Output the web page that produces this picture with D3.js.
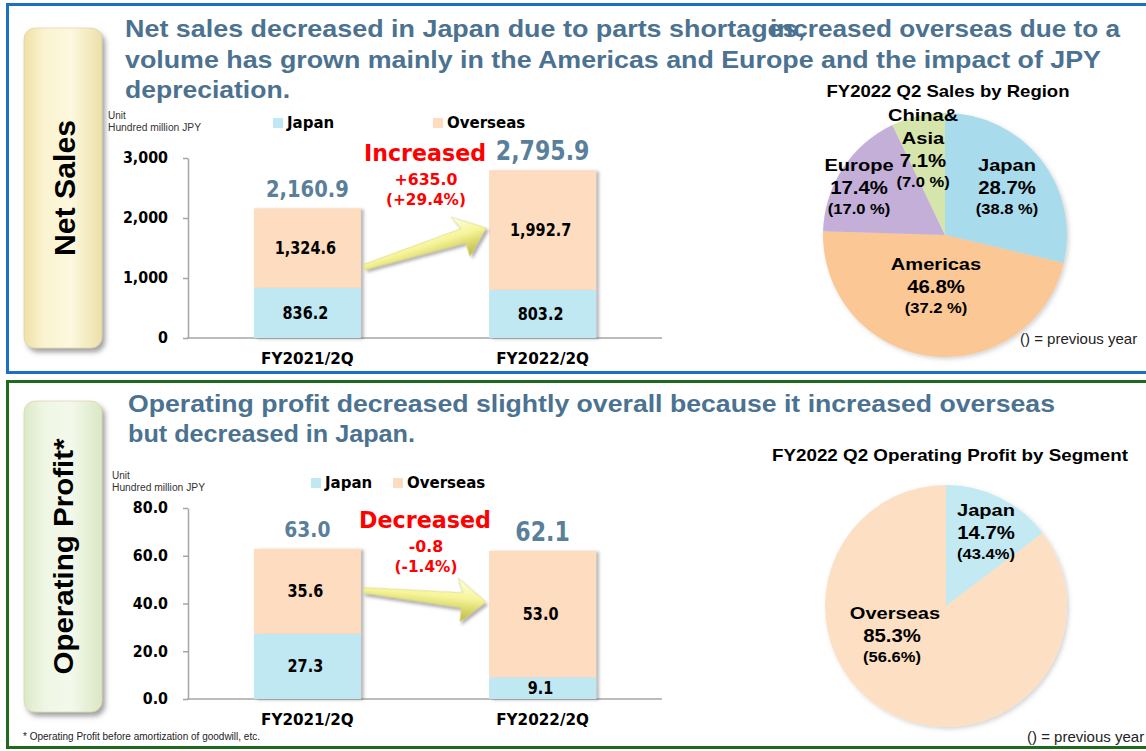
<!DOCTYPE html>
<html>
<head>
<meta charset="utf-8">
<script src="https://cdn.jsdelivr.net/npm/d3@7"></script>
<style>
body{margin:0;background:#fff;}
svg{display:block;}
</style>
</head>
<body>
<svg id="chart" width="1146" height="751"></svg>
<script>
// ---------- data ----------
const periods = ["FY2021/2Q", "FY2022/2Q"];
const seriesNames = ["Japan", "Overseas"];

const salesJapan = [836.2, 803.2];
const salesOverseas = [1324.6, 1992.7];
const salesTotal = [2160.9, 2795.9];
const salesTicks = [0, 1000, 2000, 3000];
const salesChange = ["Increased", "+635.0", "(+29.4%)"];

const profitJapan = [27.3, 9.1];
const profitOverseas = [35.6, 53.0];
const profitTotal = [63.0, 62.1];
const profitTicks = [0, 20, 40, 60, 80];
const profitChange = ["Decreased", "-0.8", "(-1.4%)"];

const regionNames = ["Japan", "Americas", "Europe", "China&Asia"];
const regionShare = [28.7, 46.8, 17.4, 7.1];
const regionPrev = [38.8, 37.2, 17.0, 7.0];

const segmentNames = ["Japan", "Overseas"];
const segmentShare = [14.7, 85.3];
const segmentPrev = [43.4, 56.6];


// ---------- styles ----------
const fNum = "'DejaVu Sans', Verdana, sans-serif";
const fSans = "'Liberation Sans', Arial, sans-serif";
const barColors = {Japan: "#c0e8f3", Overseas: "#fddcbf"};
const regionColors = ["#a8dbec", "#fbc795", "#c4afd9", "#d6e5ab"];
const segmentColors = ["#c3e9f3", "#fde0c3"];
const headColor = "#4b7290";
const totalColor = "#5a7f9a";
const axisColor = "#a6a6a6";

const svg = d3.select("#chart");
const defs = svg.append("defs");


function shadow(id, dx, dy, sd, op){
	const f = defs.append("filter").attr("id", id)
	  .attr("x", "-30%").attr("y", "-30%").attr("width", "160%").attr("height", "160%");
	f.append("feDropShadow")
	  .attr("dx", dx).attr("dy", dy).attr("stdDeviation", sd)
	  .attr("flood-color", "#555").attr("flood-opacity", op);
}
shadow("boxShadow", 3, 4, 2.5, 0.55);
shadow("barShadow", 3, 1, 1.5, 0.4);
shadow("arrowShadow", 2, 3, 1.8, 0.45);
shadow("pieShadow", 2, 2, 2, 0.25);


function gradient(id, stops, vertical){
	const g = defs.append("linearGradient").attr("id", id)
	  .attr("x1", 0).attr("y1", 0)
	  .attr("x2", vertical ? 0 : 1).attr("y2", vertical ? 1 : 0);
	stops.forEach(s => g.append("stop").attr("offset", s[0]).attr("stop-color", s[1]));
}
gradient("yellowBox", [[0, "#eee0a6"], [0.25, "#fbf3cf"], [0.6, "#fdf8df"], [1, "#ece0a8"]]);
gradient("greenBox", [[0, "#dbe9c6"], [0.25, "#eef6e3"], [0.6, "#f4f9ec"], [1, "#d9e8c4"]]);
gradient("arrowFill", [[0, "#ffffe8"], [0.45, "#f6f59a"], [1, "#bdb83c"]], true);


// text helper: w = fixed width, sx = stretch of the natural width
function txt(g, s, x, y, o = {}){
	const t = g.append("text")
	  .attr("x", x).attr("y", y)
	  .attr("text-anchor", o.anchor || "middle")
	  .attr("dominant-baseline", o.baseline || "central")
	  .attr("font-family", o.font || fSans)
	  .attr("font-size", o.size || 14)
	  .attr("font-weight", o.weight || "bold")
	  .attr("fill", o.fill || "#000")
	  .text(s);
	if(o.w){
		t.attr("textLength", o.w).attr("lengthAdjust", "spacingAndGlyphs");
	} else if(o.sx){
		const n = t.node().getComputedTextLength();
		t.attr("textLength", n*o.sx).attr("lengthAdjust", "spacingAndGlyphs");
	}
	return t;
}


// ---------- panels ----------
svg.append("rect").attr("x", 7.5).attr("y", 4.5).attr("width", 1150).attr("height", 368)
  .attr("fill", "none").attr("stroke", "#1c70c0").attr("stroke-width", 3);
svg.append("rect").attr("x", 7.5).attr("y", 381.5).attr("width", 1150).attr("height", 366)
  .attr("fill", "none").attr("stroke", "#1d6b1d").attr("stroke-width", 3);

// side label boxes
function sideBox(y, h, fill, label, size, w){
	svg.append("rect").attr("x", 24).attr("y", y).attr("width", 78).attr("height", h)
	  .attr("rx", 11).attr("fill", `url(#${fill})`)
	  .attr("stroke", "#d9cfa6").attr("stroke-width", 0.6)
	  .attr("filter", "url(#boxShadow)");
	const g = svg.append("g").attr("transform", `translate(64,${y + h/2}) rotate(-90)`);
	txt(g, label, 0, 0, {size: size, w: w});
}
sideBox(28, 320, "yellowBox", "Net Sales", 30, 136);
sideBox(401, 311, "greenBox", "Operating Profit*", 27, 236);


// ---------- headlines ----------
const hl = {size: 24, fill: headColor, anchor: "start", baseline: "alphabetic"};
txt(svg, "Net sales decreased in Japan due to parts shortages,", 125, 37, {...hl, w: 680});
txt(svg, "increased overseas due to a", 770, 37, {...hl, w: 350});
txt(svg, "volume has grown mainly in the Americas and Europe and the impact of JPY", 125, 68, {...hl, w: 976});
txt(svg, "depreciation.", 125, 98, {...hl, w: 165});
txt(svg, "Operating profit decreased slightly overall because it increased overseas", 128, 412, {...hl, w: 927});
txt(svg, "but decreased in Japan.", 128, 442, {...hl, w: 287});


// ---------- stacked bar chart ----------
function barChart(cfg){
	const g = svg.append("g");

	const x = d3.scaleBand().domain(periods).range([188, 662])
	  .paddingInner(0.545).paddingOuter(0.28);
	const y = d3.scaleLinear().domain([0, cfg.max]).range([cfg.base, cfg.top]);

	// axis
	const ax = g.append("g").attr("transform", "translate(188,0)")
	  .call(d3.axisLeft(y).tickValues(cfg.ticks).tickFormat(cfg.fmt)
	    .tickSizeInner(5).tickSizeOuter(0).tickPadding(15));
	ax.select(".domain").attr("stroke", axisColor).attr("stroke-width", 1.5);
	ax.selectAll(".tick line").attr("stroke", axisColor).attr("stroke-width", 1.5);
	ax.selectAll(".tick text")
	  .attr("font-family", fNum).attr("font-size", 15).attr("font-weight", "bold")
	  .attr("fill", "#000")
	  .each(function(){
		  const n = this.getComputedTextLength();
		  d3.select(this).attr("textLength", n*0.95).attr("lengthAdjust", "spacingAndGlyphs");
	  });

	g.append("line")
	  .attr("x1", 187).attr("x2", x.range()[1])
	  .attr("y1", y(0)).attr("y2", y(0))
	  .attr("stroke", axisColor).attr("stroke-width", 1.5);

	// bars
	const rows = periods.map((p, i) => ({period: p, Japan: cfg.japan[i], Overseas: cfg.overseas[i]}));
	const stacked = d3.stack().keys(seriesNames)(rows);

	const bars = g.append("g").attr("filter", "url(#barShadow)");
	bars.selectAll("g")
	  .data(stacked)
	  .join("g")
	  .attr("fill", d => barColors[d.key])
	  .selectAll("rect")
	  .data(d => d)
	  .join("rect")
	  .attr("x", d => x(d.data.period))
	  .attr("y", d => y(d[1]))
	  .attr("width", x.bandwidth())
	  .attr("height", d => y(d[0]) - y(d[1]));

	// segment values
	stacked.forEach(s => {
		s.forEach(d => {
			txt(g, cfg.fmtVal(d[1] - d[0]), x(d.data.period) + x.bandwidth()/2 - 2, (y(d[0]) + y(d[1]))/2,
			  {font: fNum, size: 17, sx: 0.85});
		});
	});

	// totals
	cfg.total.forEach((v, i) => {
		txt(g, cfg.fmtVal(v), x(periods[i]) + x.bandwidth()/2, y(v) - 19,
		  {font: fNum, size: cfg.totalSize[i], fill: totalColor, sx: 0.85});
	});

	// category labels
	periods.forEach(p => {
		txt(g, p, x(p) + x.bandwidth()/2, cfg.base + 20, {font: fNum, size: 16, sx: 0.95});
	});

	// legend
	seriesNames.forEach((k, i) => {
		const lx = cfg.legend[i];
		g.append("rect").attr("x", lx).attr("y", cfg.legendY - 5)
		  .attr("width", 10).attr("height", 10).attr("fill", barColors[k]);
		txt(g, k, lx + 14, cfg.legendY, {font: fNum, size: 15, anchor: "start"});
	});

	// unit
	txt(g, "Unit", cfg.unitX, cfg.legendY - 8, {size: 10, weight: "normal", anchor: "start", fill: "#333"});
	txt(g, "Hundred million JPY", cfg.unitX, cfg.legendY + 4, {size: 10, weight: "normal", anchor: "start", fill: "#333", w: 93});

	// change annotation
	const cx = (x(periods[0]) + x.bandwidth() + x(periods[1]))/2;
	txt(g, cfg.change[0], cx, cfg.changeY, {font: fNum, size: 23, fill: "#f00", w: cfg.changeW});
	txt(g, cfg.change[1], cx + 1, cfg.changeY + 27, {font: fNum, size: 15, fill: "#f00", sx: 1.05});
	txt(g, cfg.change[2], cx + 1, cfg.changeY + 47, {font: fNum, size: 15, fill: "#f00", sx: 1.02});

	// arrow from first bar to second
	const x0 = x(periods[0]) + x.bandwidth() + 3;
	const x1 = x(periods[1]) - 3;
	const dx = x1 - x0, dy = cfg.arrow[1] - cfg.arrow[0];
	const L = Math.hypot(dx, dy);
	const ang = Math.atan2(dy, dx)*180/Math.PI;
	const pts = [[0, -2.5], [L - 24, -7], [L - 30, -21], [L, 0], [L - 24, 22], [L - 24, 8], [0, 3]];
	g.append("polygon")
	  .attr("points", pts.map(p => p.join(",")).join(" "))
	  .attr("transform", `translate(${x0},${cfg.arrow[0]}) rotate(${ang})`)
	  .attr("fill", "url(#arrowFill)")
	  .attr("stroke", "#d8d470").attr("stroke-width", 0.6)
	  .attr("filter", "url(#arrowShadow)");
}

barChart({
	japan: salesJapan, overseas: salesOverseas, total: salesTotal,
	max: 3000, ticks: salesTicks, base: 338, top: 158,
	fmt: d3.format(","), fmtVal: d3.format(",.1f"),
	totalSize: [23, 26],
	legend: [273, 433], legendY: 123, unitX: 108,
	change: salesChange, changeY: 153, changeW: 122,
	arrow: [267, 228]
});

barChart({
	japan: profitJapan, overseas: profitOverseas, total: profitTotal,
	max: 80, ticks: profitTicks, base: 699, top: 508,
	fmt: d3.format(".1f"), fmtVal: d3.format(".1f"),
	totalSize: [22, 26],
	legend: [311, 393], legendY: 483, unitX: 112,
	change: profitChange, changeY: 520, changeW: 132,
	arrow: [590, 602]
});

txt(svg, "* Operating Profit before amortization of goodwill, etc.", 23, 736,
  {size: 10.5, weight: "normal", anchor: "start", fill: "#222", w: 237});


// ---------- pies ----------
function pieChart(cfg){
	const g = svg.append("g").attr("transform", `translate(${cfg.cx},${cfg.cy})`);
	const rows = cfg.names.map((n, i) => ({name: n, share: cfg.share[i], prev: cfg.prev[i], color: cfg.colors[i]}));
	const arcs = d3.pie().sort(null).value(d => d.share)(rows);
	const arc = d3.arc().innerRadius(0).outerRadius(cfg.r);

	g.append("g").attr("filter", "url(#pieShadow)")
	  .selectAll("path")
	  .data(arcs)
	  .join("path")
	  .attr("d", arc)
	  .attr("fill", d => d.data.color);

	txt(svg, cfg.title, cfg.titleX, cfg.titleY, {size: 17, w: cfg.titleW});

	arcs.forEach(a => {
		const d = a.data;
		const p = cfg.labelAt[d.name];
		const lines = cfg.split[d.name] || [d.name];
		let ly = p[1];
		lines.forEach(s => { txt(g, s, p[0], ly, {size: 17, sx: 1.18}); ly += 23; });
		txt(g, d.share.toFixed(1) + "%", p[0] + (p[2] || 0), ly, {size: 18, sx: 1.13});
		txt(g, cfg.prevFmt(d.prev), p[0] + (p[2] || 0), ly + 21, {size: 14, sx: 1.18});
	});

	txt(svg, "() = previous year", cfg.noteX, cfg.noteY, {size: 15, weight: "normal", anchor: "start", fill: "#222"});
}

pieChart({
	names: regionNames, share: regionShare, prev: regionPrev, colors: regionColors,
	cx: 945, cy: 235, r: 122,
	title: "FY2022 Q2 Sales by Region", titleX: 948, titleY: 91, titleW: 243,
	labelAt: {Japan: [62, -70], Americas: [-9, 29], Europe: [-86, -70], "China&Asia": [-22, -120, 0]},
	split: {"China&Asia": ["China&", "Asia"]},
	prevFmt: v => `(${v.toFixed(1)} %)`,
	noteX: 1020, noteY: 338
});

pieChart({
	names: segmentNames, share: segmentShare, prev: segmentPrev, colors: segmentColors,
	cx: 946, cy: 606, r: 121,
	title: "FY2022 Q2 Operating Profit by Segment", titleX: 950, titleY: 455, titleW: 356,
	labelAt: {Japan: [40, -96], Overseas: [-51, 7, -3]},
	split: {},
	prevFmt: v => `(${v.toFixed(1)}%)`,
	noteX: 1027, noteY: 736
});
</script>
</body>
</html>
